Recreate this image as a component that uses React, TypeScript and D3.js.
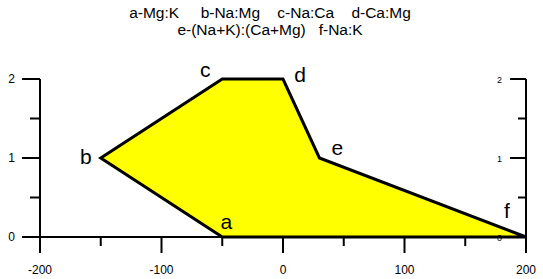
import React from 'react'
import * as d3 from 'd3'

// polygon vertices
const pointLabels = ['a', 'b', 'c', 'd', 'e', 'f']
const ratioX = [-50, -150, -50, 0, 30, 200]
const ratioY = [0, 1, 2, 2, 1, 0]

const legendLines = [
  'a-Mg:K\u00a0\u00a0\u00a0\u00a0\u00a0b-Na:Mg\u00a0\u00a0\u00a0\u00a0c-Na:Ca\u00a0\u00a0\u00a0\u00a0d-Ca:Mg',
  'e-(Na+K):(Ca+Mg)\u00a0\u00a0\u00a0f-Na:K',
]
const xTicks = [-200, -100, 0, 100, 200]
const xMinor = [-150, -50, 50, 150]
const yTicks = [0, 1, 2]
const yMinor = [0.5, 1.5]

// where each vertex letter sits relative to its point
const labelOffset: Record<string, [number, number]> = {
  a: [4, -8], b: [-15, 6], c: [-17, -2], d: [17, 3], e: [18, -3], f: [-19, -19],
}

const W = 543
const H = 279

export default function App() {
  const x = d3.scaleLinear().domain([-200, 200]).range([40, 526])
  const y = d3.scaleLinear().domain([0, 2]).range([237, 79])

  const pts: [number, number][] = ratioX.map((v, i) => [x(v), y(ratioY[i])])
  const path = d3.line()(pts) + 'Z'

  const x0 = x(-200)
  const x1 = x(200)
  const font = 'Arial, "Liberation Sans", sans-serif'

  return (
    <svg width={W} height={H} style={{ position: 'absolute', left: 0, top: 0, background: '#fff' }}>
      {legendLines.map((t, i) => (
        <text key={i} x={270} y={18 + i * 17} textAnchor="middle"
          fontFamily={font} fontSize={15.5} fill="#000">{t}</text>
      ))}

      <path d={path} fill="#ffff00" stroke="#000" strokeWidth={3} strokeLinejoin="miter" />

      {/* x axis */}
      <line x1={22} x2={x1} y1={y(0)} y2={y(0)} stroke="#000" strokeWidth={2} />
      {xTicks.map(t => (
        <g key={t}>
          <line x1={x(t)} x2={x(t)} y1={y(0)} y2={253} stroke="#000" strokeWidth={2} />
          <text x={x(t)} y={274} textAnchor="middle" fontFamily={font} fontSize={12}>{t}</text>
        </g>
      ))}
      {xMinor.map(t => (
        <line key={t} x1={x(t)} x2={x(t)} y1={y(0)} y2={246} stroke="#000" strokeWidth={2} />
      ))}

      {/* left axis */}
      <line x1={x0} x2={x0} y1={y(2)} y2={253} stroke="#000" strokeWidth={2} />
      {yTicks.map(t => (
        <g key={t}>
          <line x1={22} x2={x0} y1={y(t)} y2={y(t)} stroke="#000" strokeWidth={2} />
          <text x={15} y={y(t) + 4} textAnchor="end" fontFamily={font} fontSize={12}>{t}</text>
        </g>
      ))}
      {yMinor.map(t => (
        <line key={t} x1={30} x2={x0} y1={y(t)} y2={y(t)} stroke="#000" strokeWidth={2} />
      ))}

      {/* right axis */}
      <line x1={x1} x2={x1} y1={y(2)} y2={253} stroke="#000" strokeWidth={2} />
      {yTicks.map(t => (
        <g key={t}>
          <line x1={510} x2={x1} y1={y(t)} y2={y(t)} stroke="#000" strokeWidth={2} />
          <text x={502} y={y(t) + 3.5} textAnchor="end" fontFamily={font} fontSize={9}>{t}</text>
        </g>
      ))}
      {yMinor.map(t => (
        <line key={t} x1={518} x2={x1} y1={y(t)} y2={y(t)} stroke="#000" strokeWidth={2} />
      ))}

      {pointLabels.map((l, i) => (
        <text key={l} x={pts[i][0] + labelOffset[l][0]} y={pts[i][1] + labelOffset[l][1]}
          textAnchor="middle" fontFamily={font} fontSize={21} fill="#000">{l}</text>
      ))}
    </svg>
  )
}
